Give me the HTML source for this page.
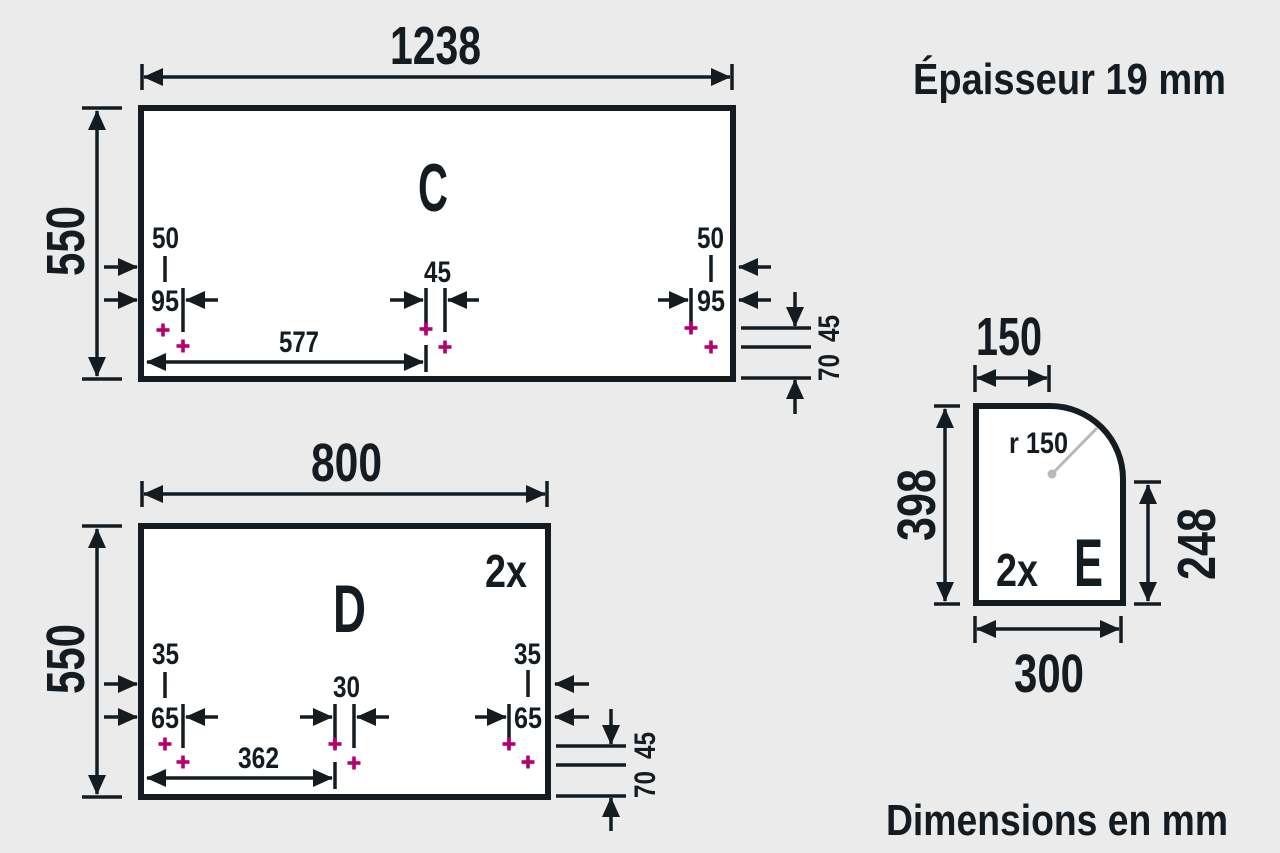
<!DOCTYPE html>
<html><head><meta charset="utf-8"><style>
html,body{margin:0;padding:0;background:#ebebeb;}
svg{display:block;}
text{font-family:"Liberation Sans Narrow","Liberation Sans",sans-serif;font-weight:bold;fill:#141c22;}
</style></head><body>
<svg width="1280" height="853" viewBox="0 0 1280 853" xmlns="http://www.w3.org/2000/svg">
<defs>
<marker id="a" markerUnits="userSpaceOnUse" markerWidth="20" markerHeight="18" refX="19" refY="9" orient="auto-start-reverse" viewBox="0 0 20 18">
<path d="M0,0 L20,9 L0,18 z" fill="#141c22"/></marker>
<g id="p"><rect x="-6.5" y="-1.8" width="13" height="3.6" fill="#b5006e"/><rect x="-1.8" y="-6.5" width="3.6" height="13" fill="#b5006e"/></g>
</defs>
<rect width="1280" height="853" fill="#ebebeb"/>
<g stroke="#141c22" stroke-width="3.5" fill="none">
<!-- C -->
<rect x="141" y="108" width="592" height="271" fill="#fff" stroke-width="6"/>
<line x1="144" y1="77" x2="730" y2="77" marker-start="url(#a)" marker-end="url(#a)"/>
<line x1="142" y1="64" x2="142" y2="90"/><line x1="732" y1="64" x2="732" y2="90"/>
<line x1="97" y1="111" x2="97" y2="376" marker-start="url(#a)" marker-end="url(#a)"/>
<line x1="82" y1="108" x2="122" y2="108"/><line x1="82" y1="379" x2="122" y2="379"/>
<line x1="104" y1="267" x2="137" y2="267" marker-end="url(#a)"/>
<line x1="104" y1="300" x2="137" y2="300" marker-end="url(#a)"/>
<line x1="165" y1="256" x2="165" y2="282"/>
<line x1="183" y1="288" x2="183" y2="332"/>
<line x1="218" y1="300" x2="186" y2="300" marker-end="url(#a)"/>
<line x1="147" y1="362" x2="423" y2="362" marker-start="url(#a)" marker-end="url(#a)"/>
<line x1="426" y1="345" x2="426" y2="372"/>
<line x1="426" y1="288" x2="426" y2="332"/><line x1="445" y1="288" x2="445" y2="332"/>
<line x1="390" y1="300" x2="423" y2="300" marker-end="url(#a)"/>
<line x1="479" y1="300" x2="448" y2="300" marker-end="url(#a)"/>
<line x1="711" y1="255" x2="711" y2="282"/>
<line x1="771" y1="267" x2="739" y2="267" marker-end="url(#a)"/>
<line x1="771" y1="300" x2="739" y2="300" marker-end="url(#a)"/>
<line x1="691" y1="288" x2="691" y2="332"/>
<line x1="658" y1="300" x2="688" y2="300" marker-end="url(#a)"/>
<line x1="741" y1="328" x2="811" y2="328"/><line x1="741" y1="347" x2="811" y2="347"/><line x1="741" y1="378" x2="811" y2="378"/>
<line x1="795" y1="292" x2="795" y2="326" marker-end="url(#a)"/>
<line x1="795" y1="414" x2="795" y2="380" marker-end="url(#a)"/>
<!-- D -->
<rect x="141" y="526" width="407" height="271" fill="#fff" stroke-width="6"/>
<line x1="144" y1="494" x2="545" y2="494" marker-start="url(#a)" marker-end="url(#a)"/>
<line x1="142" y1="481" x2="142" y2="507"/><line x1="547" y1="481" x2="547" y2="507"/>
<line x1="97" y1="529" x2="97" y2="794" marker-start="url(#a)" marker-end="url(#a)"/>
<line x1="82" y1="526" x2="122" y2="526"/><line x1="82" y1="797" x2="122" y2="797"/>
<line x1="104" y1="684" x2="137" y2="684" marker-end="url(#a)"/>
<line x1="104" y1="717" x2="137" y2="717" marker-end="url(#a)"/>
<line x1="165" y1="672" x2="165" y2="698"/>
<line x1="183" y1="704" x2="183" y2="748"/>
<line x1="218" y1="717" x2="186" y2="717" marker-end="url(#a)"/>
<line x1="147" y1="778" x2="332" y2="778" marker-start="url(#a)" marker-end="url(#a)"/>
<line x1="335" y1="762" x2="335" y2="789"/>
<line x1="335" y1="704" x2="335" y2="748"/><line x1="354" y1="704" x2="354" y2="748"/>
<line x1="300" y1="717" x2="332" y2="717" marker-end="url(#a)"/>
<line x1="389" y1="717" x2="357" y2="717" marker-end="url(#a)"/>
<line x1="528" y1="670" x2="528" y2="697"/>
<line x1="589" y1="684" x2="555" y2="684" marker-end="url(#a)"/>
<line x1="589" y1="717" x2="555" y2="717" marker-end="url(#a)"/>
<line x1="509" y1="704" x2="509" y2="748"/>
<line x1="475" y1="717" x2="506" y2="717" marker-end="url(#a)"/>
<line x1="556" y1="746" x2="626" y2="746"/><line x1="556" y1="765" x2="626" y2="765"/><line x1="556" y1="796" x2="626" y2="796"/>
<line x1="611" y1="709" x2="611" y2="744" marker-end="url(#a)"/>
<line x1="611" y1="831" x2="611" y2="798" marker-end="url(#a)"/>
<!-- E -->
<path d="M976,406 L1050,406 A73,73 0 0 1 1123,479 L1123,603 L976,603 Z" fill="#fff" stroke-width="6"/>
<line x1="977" y1="378" x2="1047" y2="378" marker-start="url(#a)" marker-end="url(#a)"/>
<line x1="975" y1="365" x2="975" y2="392"/><line x1="1049" y1="365" x2="1049" y2="392"/>
<line x1="945" y1="409" x2="945" y2="601" marker-start="url(#a)" marker-end="url(#a)"/>
<line x1="934" y1="406" x2="960" y2="406"/><line x1="934" y1="604" x2="960" y2="604"/>
<line x1="1148" y1="485" x2="1148" y2="601" marker-start="url(#a)" marker-end="url(#a)"/>
<line x1="1134" y1="482" x2="1161" y2="482"/><line x1="1134" y1="604" x2="1161" y2="604"/>
<line x1="977" y1="629" x2="1119" y2="629" marker-start="url(#a)" marker-end="url(#a)"/>
<line x1="975" y1="616" x2="975" y2="643"/><line x1="1121" y1="616" x2="1121" y2="643"/>
<line x1="1052" y1="474" x2="1097" y2="428" stroke="#b8b8b8" stroke-width="3"/>
</g>
<circle cx="1052" cy="474" r="4.5" fill="#b8b8b8"/>
<use href="#p" x="163" y="330"/><use href="#p" x="183" y="346"/>
<use href="#p" x="426" y="329"/><use href="#p" x="445" y="347"/>
<use href="#p" x="691" y="328"/><use href="#p" x="711" y="347"/>
<use href="#p" x="165" y="744"/><use href="#p" x="183" y="762"/>
<use href="#p" x="335" y="744"/><use href="#p" x="354" y="763"/>
<use href="#p" x="509" y="744"/><use href="#p" x="528" y="762"/>

<text x="390" y="64" font-size="54" textLength="91" lengthAdjust="spacingAndGlyphs">1238</text>
<text x="913" y="94" font-size="44" textLength="313" lengthAdjust="spacingAndGlyphs">Épaisseur 19 mm</text>
<text x="886" y="835" font-size="44" textLength="342" lengthAdjust="spacingAndGlyphs">Dimensions en mm</text>
<text x="418" y="211" font-size="68" textLength="30" lengthAdjust="spacingAndGlyphs">C</text>
<text transform="translate(84,276) rotate(-90)" font-size="54" textLength="70" lengthAdjust="spacingAndGlyphs">550</text>
<text x="152" y="248" font-size="30" textLength="27" lengthAdjust="spacingAndGlyphs">50</text>
<text x="151" y="311" font-size="30" textLength="28" lengthAdjust="spacingAndGlyphs">95</text>
<text x="424" y="282" font-size="30" textLength="27" lengthAdjust="spacingAndGlyphs">45</text>
<text x="279" y="352" font-size="30" textLength="40" lengthAdjust="spacingAndGlyphs">577</text>
<text x="697" y="248" font-size="30" textLength="27" lengthAdjust="spacingAndGlyphs">50</text>
<text x="697" y="311" font-size="30" textLength="28" lengthAdjust="spacingAndGlyphs">95</text>
<text transform="translate(839,342) rotate(-90)" font-size="30" textLength="27" lengthAdjust="spacingAndGlyphs">45</text>
<text transform="translate(839,381) rotate(-90)" font-size="30" textLength="27" lengthAdjust="spacingAndGlyphs">70</text>

<text x="311" y="481" font-size="54" textLength="71" lengthAdjust="spacingAndGlyphs">800</text>
<text x="333" y="632" font-size="68" textLength="33" lengthAdjust="spacingAndGlyphs">D</text>
<text x="485" y="587" font-size="46" textLength="42" lengthAdjust="spacingAndGlyphs">2x</text>
<text transform="translate(84,694) rotate(-90)" font-size="54" textLength="70" lengthAdjust="spacingAndGlyphs">550</text>
<text x="152" y="664" font-size="30" textLength="27" lengthAdjust="spacingAndGlyphs">35</text>
<text x="151" y="728" font-size="30" textLength="28" lengthAdjust="spacingAndGlyphs">65</text>
<text x="333" y="697" font-size="30" textLength="27" lengthAdjust="spacingAndGlyphs">30</text>
<text x="238" y="768" font-size="30" textLength="41" lengthAdjust="spacingAndGlyphs">362</text>
<text x="514" y="664" font-size="30" textLength="27" lengthAdjust="spacingAndGlyphs">35</text>
<text x="514" y="728" font-size="30" textLength="28" lengthAdjust="spacingAndGlyphs">65</text>
<text transform="translate(655,759) rotate(-90)" font-size="30" textLength="27" lengthAdjust="spacingAndGlyphs">45</text>
<text transform="translate(655,798) rotate(-90)" font-size="30" textLength="27" lengthAdjust="spacingAndGlyphs">70</text>

<text x="976" y="355" font-size="54" textLength="66" lengthAdjust="spacingAndGlyphs">150</text>
<text transform="translate(935,541) rotate(-90)" font-size="54" textLength="72" lengthAdjust="spacingAndGlyphs">398</text>
<text transform="translate(1215,580) rotate(-90)" font-size="54" textLength="72" lengthAdjust="spacingAndGlyphs">248</text>
<text x="1014" y="692" font-size="54" textLength="70" lengthAdjust="spacingAndGlyphs">300</text>
<text x="1009" y="453" font-size="30" textLength="59" lengthAdjust="spacingAndGlyphs">r 150</text>
<text x="996" y="586" font-size="46" textLength="42" lengthAdjust="spacingAndGlyphs">2x</text>
<text x="1074" y="586" font-size="68" textLength="29" lengthAdjust="spacingAndGlyphs">E</text>
</svg>
</body></html>
